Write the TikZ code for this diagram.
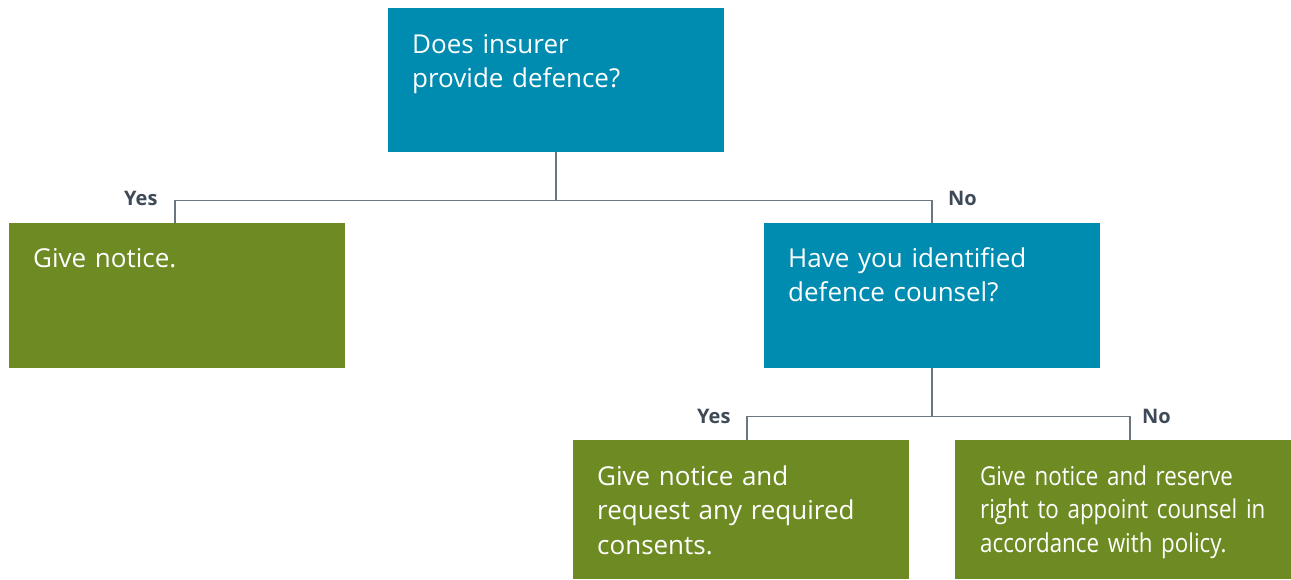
\documentclass[tikz,border=0pt]{standalone}
\usepackage{fontspec}
\setmainfont{Open Sans}
\newfontfamily\condfont[FakeStretch=0.86]{Open Sans}
\definecolor{qblue}{RGB}{0,139,176}
\definecolor{agreen}{RGB}{110,139,35}
\definecolor{linegray}{RGB}{108,118,128}
\definecolor{labelgray}{RGB}{62,75,87}
\tikzset{
  boxbase/.style={anchor=north west, inner sep=0pt, minimum width=336pt, draw=none},
  qbox/.style={boxbase, fill=qblue},
  abox/.style={boxbase, fill=agreen},
  boxtext/.style={anchor=base west, inner sep=0pt, text width=320pt, align=left, text=white, font=\fontsize{26}{34.5}\selectfont},
  conn/.style={draw=linegray, line width=1.5pt},
  lbl/.style={anchor=base west, inner sep=0pt, text=labelgray, font=\bfseries\fontsize{20}{24}\selectfont}
}
\begin{document}
\begin{tikzpicture}[x=1pt,y=-1pt]
\useasboundingbox (0,0) rectangle (1291,579);
% boxes
\node[qbox, minimum height=144pt] (q1) at (388,8) {};
\node[abox, minimum height=145pt] (a1) at (9,223) {};
\node[qbox, minimum height=145pt] (q2) at (764,223) {};
\node[abox, minimum height=139pt] (a2) at (573,440) {};
\node[abox, minimum height=139pt] (a3) at (955,440) {};
% texts
\node[boxtext] (t1) at (412,53) {Does insurer\\provide defence?};
\node[boxtext] (t2) at (33,267) {Give notice.};
\node[boxtext] (t3) at (788,267) {Have you identified\\defence counsel?};
\node[boxtext] (t4) at (597,485) {Give notice and\\request any required\\consents.};
\node[boxtext, font=\condfont\fontsize{26}{33.5}\selectfont] (t5) at (980,485) {Give notice and reserve\\right to appoint counsel in\\accordance with policy.};
% connectors
\draw[conn] (q1.south) -- ++(0,48) coordinate (j1);
\draw[conn] (j1) -| ([xshift=-2pt]a1.north);
\draw[conn] (j1) -| (q2.north);
\draw[conn] (q2.south) -- ++(0,48) coordinate (j2);
\draw[conn] (j2) -| ([xshift=6pt]a2.north);
\draw[conn] (j2) -| ([xshift=7pt]a3.north);
% labels
\node[lbl] (y1) at (124,205) {Yes};
\node[lbl] (n1) at (948,205) {No};
\node[lbl] (y2) at (697,423) {Yes};
\node[lbl] (n2) at (1142,423) {No};
\end{tikzpicture}
\end{document}
